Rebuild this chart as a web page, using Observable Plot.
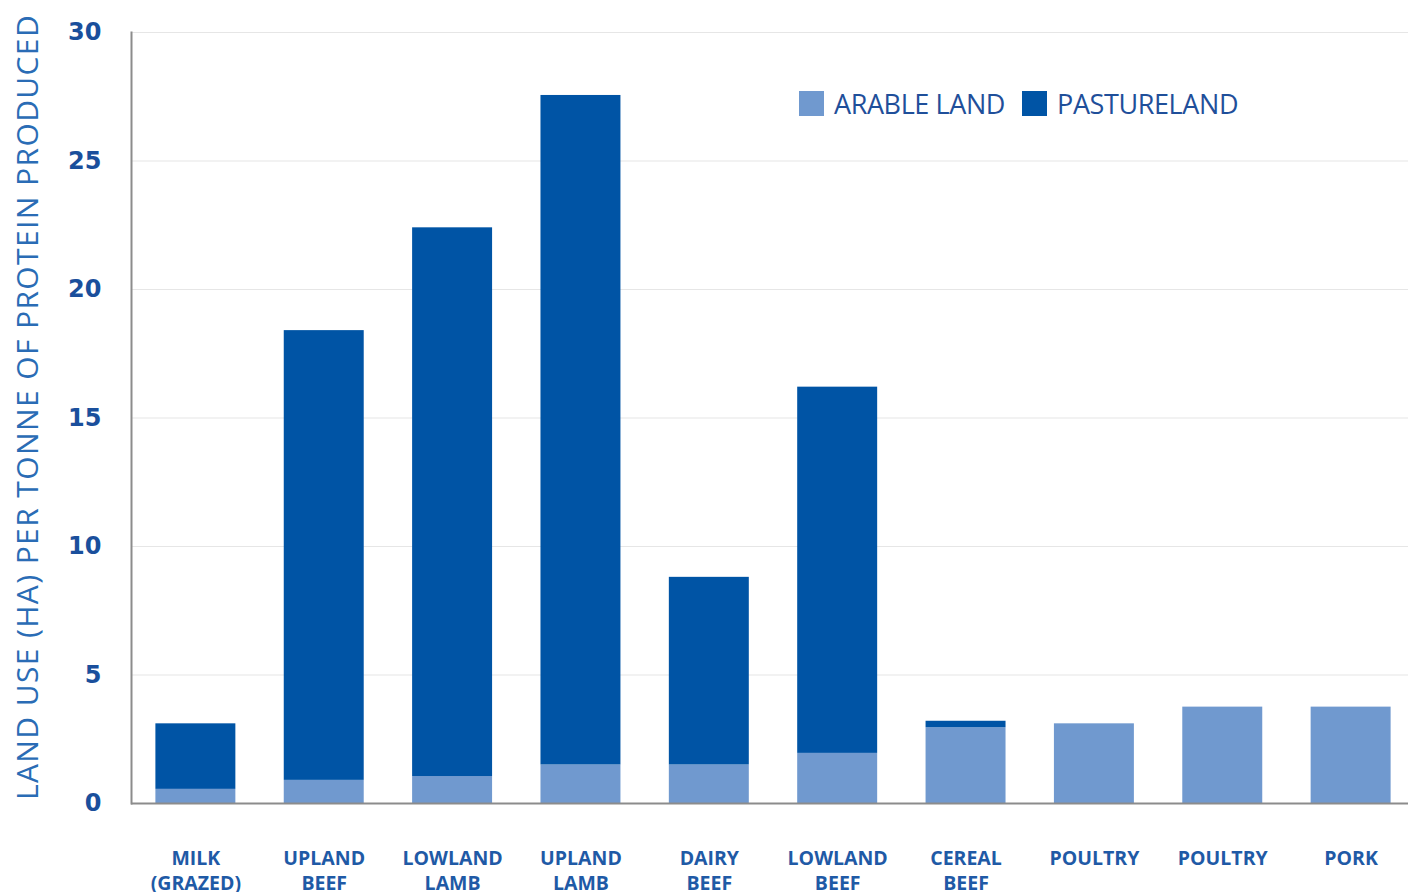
<!DOCTYPE html>
<html>
<head>
<meta charset="utf-8">
<script src="https://cdn.jsdelivr.net/npm/d3@7"></script>
<script src="https://cdn.jsdelivr.net/npm/@observablehq/plot@0.6"></script>
<style>
  html, body { margin: 0; padding: 0; background: #fff; overflow: hidden; }
  #wrap { position: relative; width: 1408px; height: 892px; }
  #legend { position: absolute; left: 799px; top: 85px; display: flex; align-items: center;
    font-family: "Open Sans", sans-serif; font-size: 27px; color: #1f4f9a; letter-spacing: -0.4px; }
  #legend .sw { width: 25px; height: 25px; display: inline-block; margin-right: 10px; }
  #legend .item { display: flex; align-items: center; margin-right: 17px; }
</style>
</head>
<body>
<div id="wrap">
  <div id="chart"></div>
  <div id="legend"></div>
</div>
<script>
const categories = ["MILK\n(GRAZED)", "UPLAND\nBEEF", "LOWLAND\nLAMB", "UPLAND\nLAMB", "DAIRY\nBEEF", "LOWLAND\nBEEF", "CEREAL\nBEEF", "POULTRY", "POULTRY", "PORK"];
const arable  = [0.55, 0.9, 1.05, 1.5, 1.5, 1.95, 2.95, 3.1, 3.75, 3.75];
const pasture = [2.55, 17.5, 21.35, 26.05, 7.3, 14.25, 0.25, 0, 0, 0];
const seriesNames = ["ARABLE LAND", "PASTURELAND"];
const seriesColors = ["#7099cf", "#0054a5"];
const yTicks = [0, 5, 10, 15, 20, 25, 30];
const yTitle = "LAND USE (HA) PER TONNE OF PROTEIN PRODUCED";

const data = [];
categories.forEach((c, i) => data.push({i, type: seriesNames[0], value: arable[i]}));
categories.forEach((c, i) => data.push({i, type: seriesNames[1], value: pasture[i]}));

const chart = Plot.plot({
  width: 1408,
  height: 892,
  marginLeft: 131,
  marginRight: -7,
  marginTop: 32,
  marginBottom: 89,
  style: {background: "#fff", overflow: "visible"},
  x: {domain: d3.range(categories.length), paddingInner: 0.377, paddingOuter: 0.19, round: false, label: null},
  y: {domain: [0, 30], label: null},
  color: {domain: seriesNames, range: seriesColors},
  marks: [
    Plot.gridY(yTicks.slice(1), {stroke: "#e6e6e6", strokeOpacity: 1, strokeWidth: 1.2}),
    Plot.barY(data, {x: "i", y: "value", fill: "type", order: seriesNames}),
    Plot.frame({anchor: "left", stroke: "#8c8c8c", strokeWidth: 2}),
    Plot.ruleY([0], {stroke: "#8c8c8c", strokeWidth: 2}),
    Plot.axisY({ticks: yTicks, tickSize: 0, tickPadding: 30, label: null,
      fontFamily: "DejaVu Sans", fontWeight: "bold", fontSize: 24, fill: "#1a4f9c"}),
    Plot.axisX({tickSize: 0, tickPadding: 43, label: null, tickFormat: i => categories[i],
      fontFamily: "Open Sans", fontWeight: "bold", fontSize: 19.5, lineHeight: 1.3, fill: "#1f5aa6"}),
    Plot.text([yTitle], {frameAnchor: "left", rotate: -90, dx: -103, dy: -11, text: d => d,
      textAnchor: "middle", lineAnchor: "middle", className: "ytitle",
      fontFamily: "Open Sans", fontSize: 30, fill: "#2a6cb5"})
  ]
});
d3.select(chart).selectAll("text").filter(function() { return this.textContent === yTitle; })
  .attr("letter-spacing", "1.4px");
document.getElementById("chart").appendChild(chart);

const legend = document.getElementById("legend");
seriesNames.forEach((n, k) => {
  const it = document.createElement("div");
  it.className = "item";
  it.innerHTML = `<span class="sw" style="background:${seriesColors[k]}"></span><span>${n}</span>`;
  legend.appendChild(it);
});
</script>
</body>
</html>
